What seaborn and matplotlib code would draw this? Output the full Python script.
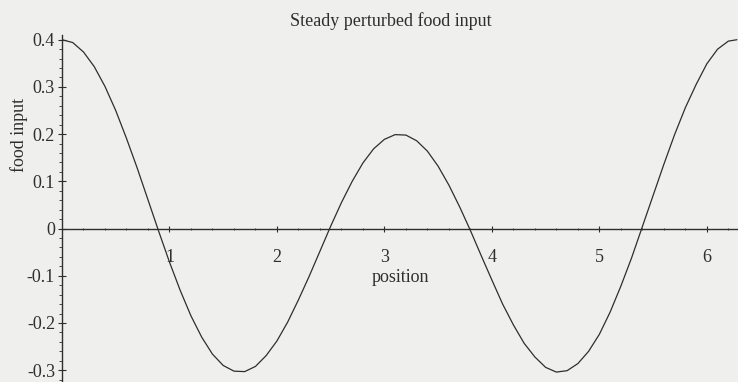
import numpy as np
import pandas as pd
import matplotlib
matplotlib.use("Agg")
import matplotlib.pyplot as plt
import seaborn as sns
from matplotlib.ticker import MultipleLocator

# Food input along the position axis (0 .. 2*pi), sampled every 0.1
position = [0.0, 0.1, 0.2, 0.3, 0.4, 0.5, 0.6, 0.7, 0.8, 0.9,
            1.0, 1.1, 1.2, 1.3, 1.4, 1.5, 1.6, 1.7, 1.8, 1.9,
            2.0, 2.1, 2.2, 2.3, 2.4, 2.5, 2.6, 2.7, 2.8, 2.9,
            3.0, 3.1, 3.2, 3.3, 3.4, 3.5, 3.6, 3.7, 3.8, 3.9,
            4.0, 4.1, 4.2, 4.3, 4.4, 4.5, 4.6, 4.7, 4.8, 4.9,
            5.0, 5.1, 5.2, 5.3, 5.4, 5.5, 5.6, 5.7, 5.8, 5.9,
            6.0, 6.1, 6.2, 6.28]
food_input = [0.400, 0.394, 0.374, 0.343, 0.301, 0.250, 0.191, 0.128, 0.061, -0.006,
              -0.071, -0.131, -0.185, -0.230, -0.266, -0.290, -0.302, -0.303, -0.292, -0.269,
              -0.238, -0.198, -0.151, -0.101, -0.048, 0.005, 0.055, 0.100, 0.139, 0.169,
              0.189, 0.199, 0.198, 0.186, 0.164, 0.132, 0.092, 0.046, -0.004, -0.057,
              -0.109, -0.160, -0.204, -0.243, -0.272, -0.294, -0.304, -0.301, -0.286, -0.260,
              -0.224, -0.177, -0.122, -0.062, 0.004, 0.070, 0.136, 0.199, 0.256, 0.305,
              0.349, 0.380, 0.397, 0.400]

x_ticks = [1, 2, 3, 4, 5, 6]
x_tick_labels = ["1", "2", "3", "4", "5", "6"]
y_ticks = [-0.3, -0.2, -0.1, 0.0, 0.1, 0.2, 0.3, 0.4]
y_tick_labels = ["-0.3", "-0.2", "-0.1", "0", "0.1", "0.2", "0.3", "0.4"]

paper = "#efefed"
ink = "#2e2e2e"

sns.set_theme(style="white")
plt.rcParams["font.family"] = ["Liberation Serif", "DejaVu Serif"]

fig = plt.figure(figsize=(7.38, 3.82), dpi=100, facecolor=paper)
ax = fig.add_axes([62 / 738, 0.0, 1 - 62 / 738, 1 - 35 / 382])
ax.set_facecolor(paper)

df = pd.DataFrame({"position": position, "food input": food_input})
sns.lineplot(data=df, x="position", y="food input", ax=ax,
             color=ink, linewidth=0.9)

ax.set_xlim(0, 6.29)
ax.set_ylim(-0.325, 0.41)

# Axes crossing at the origin
ax.spines["top"].set_visible(False)
ax.spines["right"].set_visible(False)
ax.spines["bottom"].set_position(("data", 0))
ax.spines["left"].set_position(("data", 0))
for s in ("bottom", "left"):
    ax.spines[s].set_color(ink)
    ax.spines[s].set_linewidth(1.0)

ax.set_xticks(x_ticks)
ax.set_xticklabels(x_tick_labels)
ax.set_yticks(y_ticks)
ax.set_yticklabels(y_tick_labels)
ax.xaxis.set_minor_locator(MultipleLocator(0.2))
ax.yaxis.set_minor_locator(MultipleLocator(0.02))

ax.tick_params(axis="x", which="major", direction="inout", length=4, width=0.8,
               color=ink, labelcolor=ink, labelsize=13, pad=13)
ax.tick_params(axis="x", which="minor", direction="inout", length=2, width=0.6, color=ink)
ax.tick_params(axis="y", which="major", direction="inout", length=6, width=0.8,
               color=ink, labelcolor=ink, labelsize=13, pad=2)
ax.tick_params(axis="y", which="minor", direction="out", length=2, width=0.6, color=ink)
ax.tick_params(left=True, bottom=True, which="both")

ax.set_xlabel("position", fontsize=13, color=ink)
ax.set_ylabel("food input", fontsize=13, color=ink)
ax.yaxis.set_label_coords(-0.05, 0.712)
ax.xaxis.set_label_coords(0.5, 0.325)

fig.text(0.53, 0.945, "Steady perturbed food input", ha="center", va="center",
         fontsize=13, color=ink)

fig.savefig("out.png", dpi=100, facecolor=paper)
